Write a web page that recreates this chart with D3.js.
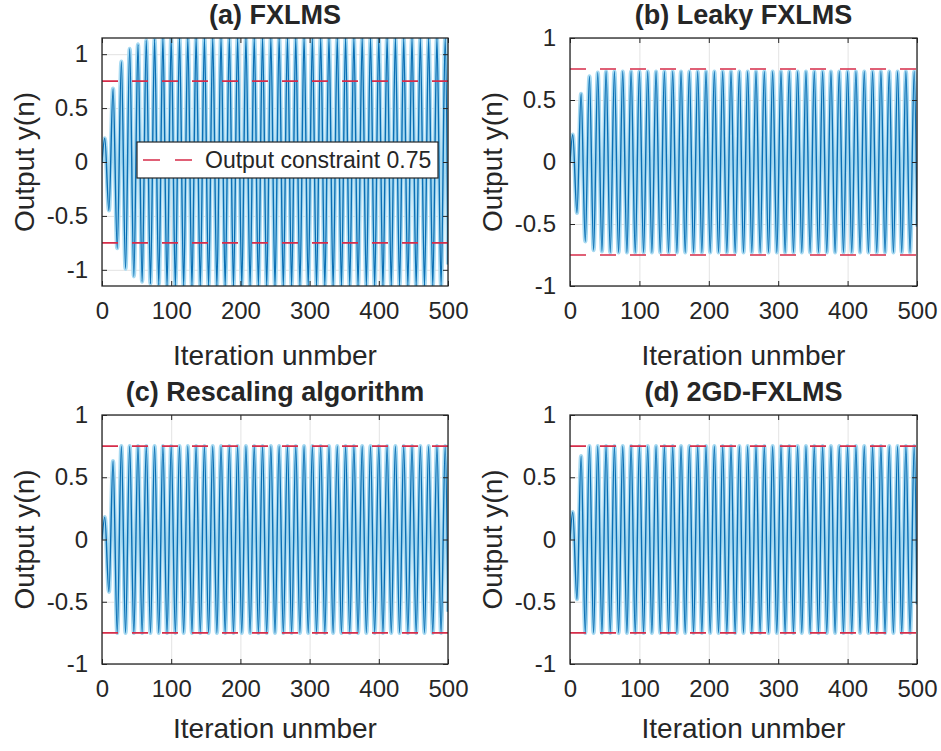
<!DOCTYPE html>
<html>
<head>
<meta charset="utf-8">
<script src="https://cdn.jsdelivr.net/npm/d3@7"></script>
<style>
  body { margin: 0; background: #fff; }
  svg { display: block; }
  text { font-family: "Liberation Sans", Arial, sans-serif; fill: #262626; }
</style>
</head>
<body>
<svg id="chart" width="941" height="751"></svg>
<script>
// ---- data -------------------------------------------------------------
const iterTicks = [0, 100, 200, 300, 400, 500];
const outputTicks = [-1, -0.5, 0, 0.5, 1];
const constraintLevel = 0.75;
const titles = ["(a) FXLMS", "(b) Leaky FXLMS", "(c) Rescaling algorithm", "(d) 2GD-FXLMS"];
const legendLabel = "Output constraint 0.75";
const xLabel = "Iteration unmber";
const yLabel = "Output y(n)";

// output signal: successive peaks / troughs, one every half period
const firstExtremeIter = 4;
const halfPeriodIter = 6;
const lastIter = 500;
const startValue = 0;

const extremaA = [
  0.22, -0.45, 0.68, -0.80, 0.93, -0.99, 1.05, -1.06,
  1.09, -1.11, 1.13, -1.13, 1.14, -1.14, 1.15, -1.15,
  1.15, -1.15, 1.15, -1.15, 1.15, -1.15, 1.15, -1.15,
  1.15, -1.15, 1.15, -1.15, 1.15, -1.15, 1.15, -1.15,
  1.15, -1.15, 1.15, -1.15, 1.15, -1.15, 1.15, -1.15,
  1.15, -1.15, 1.15, -1.15, 1.15, -1.15, 1.15, -1.15,
  1.15, -1.15, 1.15, -1.15, 1.15, -1.15, 1.15, -1.15,
  1.15, -1.15, 1.15, -1.15, 1.15, -1.15, 1.15, -1.15,
  1.15, -1.15, 1.15, -1.15, 1.15, -1.15, 1.15, -1.15,
  1.15, -1.15, 1.15, -1.15, 1.15, -1.15, 1.15, -1.15,
  1.15, -1.15, 1.15
];
const endA = -0.95;

const extremaB = [
  0.22, -0.41, 0.55, -0.64, 0.69, -0.71, 0.72, -0.72,
  0.73, -0.73, 0.73, -0.73, 0.73, -0.73, 0.73, -0.73,
  0.73, -0.73, 0.73, -0.73, 0.73, -0.73, 0.73, -0.73,
  0.73, -0.73, 0.73, -0.73, 0.73, -0.73, 0.73, -0.73,
  0.73, -0.73, 0.73, -0.73, 0.73, -0.73, 0.73, -0.73,
  0.73, -0.73, 0.73, -0.73, 0.73, -0.73, 0.73, -0.73,
  0.73, -0.73, 0.73, -0.73, 0.73, -0.73, 0.73, -0.73,
  0.73, -0.73, 0.73, -0.73, 0.73, -0.73, 0.73, -0.73,
  0.73, -0.73, 0.73, -0.73, 0.73, -0.73, 0.73, -0.73,
  0.73, -0.73, 0.73, -0.73, 0.73, -0.73, 0.73, -0.73,
  0.73, -0.73, 0.73
];
const endB = -0.52;

const extremaC = [
  0.18, -0.42, 0.63,
  -0.75, 0.75, -0.75, 0.75, -0.75, 0.75, -0.75, 0.75,
  -0.75, 0.75, -0.75, 0.75, -0.75, 0.75, -0.75, 0.75,
  -0.75, 0.75, -0.75, 0.75, -0.75, 0.75, -0.75, 0.75,
  -0.75, 0.75, -0.75, 0.75, -0.75, 0.75, -0.75, 0.75,
  -0.75, 0.75, -0.75, 0.75, -0.75, 0.75, -0.75, 0.75,
  -0.75, 0.75, -0.75, 0.75, -0.75, 0.75, -0.75, 0.75,
  -0.75, 0.75, -0.75, 0.75, -0.75, 0.75, -0.75, 0.75,
  -0.75, 0.75, -0.75, 0.75, -0.75, 0.75, -0.75, 0.75,
  -0.75, 0.75, -0.75, 0.75, -0.75, 0.75, -0.75, 0.75,
  -0.75, 0.75, -0.75, 0.75, -0.75, 0.75, -0.75, 0.75
];
const endC = -0.58;

const extremaD = [
  0.22, -0.48, 0.67,
  -0.75, 0.75, -0.75, 0.75, -0.75, 0.75, -0.75, 0.75,
  -0.75, 0.75, -0.75, 0.75, -0.75, 0.75, -0.75, 0.75,
  -0.75, 0.75, -0.75, 0.75, -0.75, 0.75, -0.75, 0.75,
  -0.75, 0.75, -0.75, 0.75, -0.75, 0.75, -0.75, 0.75,
  -0.75, 0.75, -0.75, 0.75, -0.75, 0.75, -0.75, 0.75,
  -0.75, 0.75, -0.75, 0.75, -0.75, 0.75, -0.75, 0.75,
  -0.75, 0.75, -0.75, 0.75, -0.75, 0.75, -0.75, 0.75,
  -0.75, 0.75, -0.75, 0.75, -0.75, 0.75, -0.75, 0.75,
  -0.75, 0.75, -0.75, 0.75, -0.75, 0.75, -0.75, 0.75,
  -0.75, 0.75, -0.75, 0.75, -0.75, 0.75, -0.75, 0.75
];
const endD = -0.52;

const yDomainA = [-1.15, 1.15];
const yDomainOthers = [-1, 1];

// ---- layout -----------------------------------------------------------
const panels = [
  { title: titles[0], ext: extremaA, end: endA, yDomain: yDomainA,      box: [102, 38, 448, 286],  xLabelGap: 79, legend: true },
  { title: titles[1], ext: extremaB, end: endB, yDomain: yDomainOthers, box: [570, 38, 917, 286],  xLabelGap: 79, legend: false },
  { title: titles[2], ext: extremaC, end: endC, yDomain: yDomainOthers, box: [102, 415, 448, 664], xLabelGap: 74, legend: false },
  { title: titles[3], ext: extremaD, end: endD, yDomain: yDomainOthers, box: [570, 415, 917, 664], xLabelGap: 74, legend: false }
];

const INK = "#262626";
const BLUE = "#0a6fb4";
const HAZE = "#a6d9f1";
const RED = "#d62d4a";
const GRID = "#e3e3e3";

const svg = d3.select("#chart");
const defs = svg.append("defs");

panels.forEach((p, idx) => {
  const [x0, y0, x1, y1] = p.box;
  const w = x1 - x0, h = y1 - y0;
  const x = d3.scaleLinear().domain([0, lastIter]).range([x0, x1]);
  const y = d3.scaleLinear().domain(p.yDomain).range([y1, y0]);
  const g = svg.append("g");

  defs.append("clipPath").attr("id", "clip" + idx)
    .append("rect").attr("x", x0).attr("y", y0).attr("width", w).attr("height", h);

  // grid
  g.append("g").attr("transform", `translate(0,${y1})`)
    .call(d3.axisBottom(x).tickValues(iterTicks).tickSize(-h).tickFormat(""))
    .call(s => { s.select(".domain").remove(); s.selectAll("line").attr("stroke", GRID); });
  g.append("g").attr("transform", `translate(${x0},0)`)
    .call(d3.axisLeft(y).tickValues(outputTicks).tickSize(-w).tickFormat(""))
    .call(s => { s.select(".domain").remove(); s.selectAll("line").attr("stroke", GRID); });

  // signal
  const pts = [[0, startValue]]
    .concat(p.ext.map((v, i) => [firstExtremeIter + i * halfPeriodIter, v]))
    .concat([[lastIter, p.end]]);
  const line = d3.line().x(d => x(d[0])).y(d => y(d[1])).curve(d3.curveMonotoneX);
  const sig = g.append("g").attr("clip-path", `url(#clip${idx})`);
  sig.append("path").datum(pts).attr("d", line)
    .attr("fill", "none").attr("stroke", HAZE).attr("stroke-width", 4.2);
  sig.append("path").datum(pts).attr("d", line)
    .attr("fill", "none").attr("stroke", BLUE).attr("stroke-width", 1.4);

  // output constraint
  [constraintLevel, -constraintLevel].forEach(c => {
    g.append("line")
      .attr("x1", x(0)).attr("x2", x(lastIter))
      .attr("y1", y(c)).attr("y2", y(c))
      .attr("stroke", RED).attr("stroke-width", 1.6)
      .attr("stroke-dasharray", "16,14");
  });

  // axes with inward ticks
  const xAxis = g.append("g").attr("transform", `translate(0,${y1})`)
    .call(d3.axisBottom(x).tickValues(iterTicks).tickSizeInner(-5).tickSizeOuter(0).tickPadding(16).tickFormat(d => String(d)));
  const yAxis = g.append("g").attr("transform", `translate(${x0},0)`)
    .call(d3.axisLeft(y).tickValues(outputTicks).tickSizeInner(-5).tickSizeOuter(0).tickPadding(14).tickFormat(d => String(d)));
  [xAxis, yAxis].forEach(a => {
    a.select(".domain").remove();
    a.selectAll("line").attr("stroke", INK);
    a.selectAll("text").attr("font-size", 24).attr("fill", INK)
      .style("font-family", '"Liberation Sans", Arial, sans-serif');
  });
  xAxis.selectAll("text").attr("dy", "0.71em");
  // mirrored ticks on top and right
  g.append("g").attr("transform", `translate(0,${y0})`)
    .call(d3.axisTop(x).tickValues(iterTicks).tickSizeInner(-5).tickSizeOuter(0).tickFormat(""))
    .call(s => { s.select(".domain").remove(); s.selectAll("line").attr("stroke", INK); });
  g.append("g").attr("transform", `translate(${x1},0)`)
    .call(d3.axisRight(y).tickValues(outputTicks).tickSizeInner(-5).tickSizeOuter(0).tickFormat(""))
    .call(s => { s.select(".domain").remove(); s.selectAll("line").attr("stroke", INK); });

  // frame
  g.append("rect").attr("x", x0).attr("y", y0).attr("width", w).attr("height", h)
    .attr("fill", "none").attr("stroke", INK).attr("stroke-width", 1.3);

  // title and axis labels
  g.append("text").attr("x", (x0 + x1) / 2).attr("y", y0 - 14)
    .attr("text-anchor", "middle").attr("font-size", 27).attr("font-weight", "bold")
    .attr("fill", "#000").text(p.title);
  g.append("text").attr("x", (x0 + x1) / 2).attr("y", y1 + p.xLabelGap)
    .attr("text-anchor", "middle").attr("font-size", 28).text(xLabel);
  g.append("text")
    .attr("transform", `translate(${x0 - 68},${(y0 + y1) / 2}) rotate(-90)`)
    .attr("text-anchor", "middle").attr("font-size", 28).text(yLabel);

  // legend
  if (p.legend) {
    const lg = g.append("g");
    lg.append("rect").attr("x", 137).attr("y", 142).attr("width", 301).attr("height", 36)
      .attr("fill", "#fff").attr("stroke", INK).attr("stroke-width", 1.2);
    lg.append("line").attr("x1", 143).attr("x2", 193).attr("y1", 160).attr("y2", 160)
      .attr("stroke", RED).attr("stroke-width", 1.6).attr("stroke-dasharray", "17,15");
    lg.append("text").attr("x", 205).attr("y", 168).attr("font-size", 23).text(legendLabel);
  }
});
</script>
</body>
</html>
